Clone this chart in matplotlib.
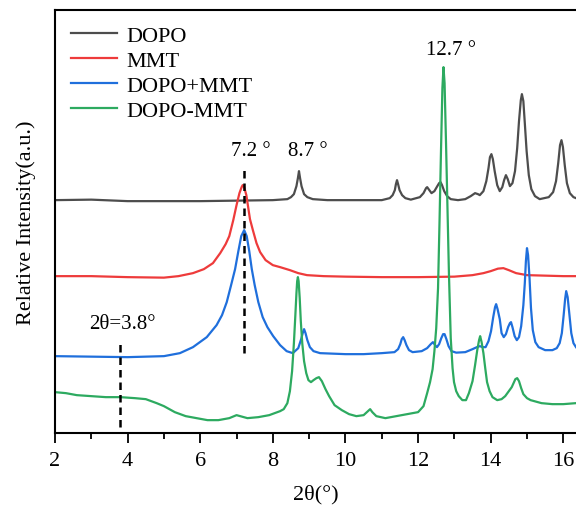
import matplotlib
matplotlib.use("Agg")
import matplotlib.pyplot as plt
from matplotlib.ticker import MultipleLocator

plt.rcParams['font.family'] = ['Liberation Serif', 'DejaVu Serif']

# XRD curves (2theta, stacked intensity in arbitrary units)
dopo_x = [2.0, 3.0, 4.0, 5.0, 6.0, 7.0, 8.0, 8.4, 8.5, 8.58, 8.65, 8.69, 8.72, 8.75, 8.79,
          8.86, 8.95, 9.1, 9.5, 10.0, 10.5, 11.0, 11.22, 11.3, 11.36, 11.39, 11.42, 11.45,
          11.49, 11.56, 11.65, 11.8, 12.05, 12.15, 12.22, 12.25, 12.29, 12.37, 12.45, 12.53,
          12.58, 12.62, 12.66, 12.72, 12.8, 12.9, 13.1, 13.3, 13.45, 13.57, 13.65, 13.7,
          13.8, 13.88, 13.94, 13.98, 14.02, 14.06, 14.11, 14.18, 14.25, 14.32, 14.37, 14.42,
          14.47, 14.53, 14.6, 14.67, 14.73, 14.78, 14.83, 14.86, 14.9, 14.94, 14.99, 15.05,
          15.12, 15.22, 15.35, 15.6, 15.72, 15.8, 15.86, 15.91, 15.95, 15.99, 16.04, 16.1,
          16.18, 16.28, 16.35]
dopo_y = [233, 233.5, 232, 232, 232, 232.5, 233, 234, 236, 239, 247, 255, 262, 255, 247,
          239, 236, 234, 233, 233, 233, 233, 235, 238, 243, 249, 253, 249,
          243, 238, 235, 233.5, 236, 240, 245, 246, 244, 240, 242, 247,
          250, 251, 248, 242, 237, 234, 233, 234, 237, 240, 239, 238,
          242, 252, 265, 276, 279, 274, 262, 248, 242, 246, 253, 258,
          254, 247, 250, 262, 285, 312, 333, 339, 332, 310, 282, 258,
          244, 237, 234, 236, 241, 252, 270, 288, 293, 286, 268, 250,
          240, 236, 235]

mmt_x = [2.0, 3.0, 4.0, 5.0, 5.4, 5.8, 6.1, 6.35, 6.55, 6.7, 6.8, 6.91, 7.0, 7.08, 7.14,
         7.17, 7.21, 7.27, 7.32, 7.37, 7.45, 7.55, 7.65, 7.8, 8.0, 8.2, 8.47, 8.7, 8.94,
         9.4, 10.0, 11.0, 12.0, 13.0, 13.5, 13.8, 14.0, 14.2, 14.35, 14.5, 14.7, 15.0, 15.5,
         16.0, 16.35]
mmt_y = [157, 157, 156, 155.5, 157, 160, 164, 170, 180, 189, 197, 213, 228, 240, 246,
         248, 246, 238, 226, 214, 203, 190, 181, 173, 168, 166, 163, 160, 158,
         157, 156.5, 156, 156, 156.5, 158, 160, 162, 164.5, 165, 163, 160, 158, 157.5,
         157, 157]

mix_x = [2.0, 3.0, 4.0, 5.0, 5.44, 5.8, 6.18, 6.45, 6.6, 6.73, 6.85, 6.96, 7.05, 7.13, 7.21,
         7.28, 7.35, 7.42, 7.5, 7.6, 7.72, 7.85, 8.01, 8.2, 8.38, 8.55, 8.7, 8.78, 8.83,
         8.86, 8.9, 8.95, 9.02, 9.12, 9.3, 10.0, 10.5, 11.0, 11.35, 11.45, 11.51, 11.55,
         11.59, 11.63, 11.68, 11.75, 11.85, 12.1, 12.25, 12.35, 12.41, 12.47, 12.52, 12.58,
         12.64, 12.69, 12.73, 12.78, 12.84, 12.92, 13.05, 13.3, 13.5, 13.62, 13.7, 13.78,
         13.86, 13.94, 14.01, 14.07, 14.12, 14.15, 14.19, 14.25, 14.3, 14.36, 14.42, 14.48,
         14.53, 14.56, 14.6, 14.66, 14.72, 14.78, 14.84, 14.9, 14.94, 14.97, 15.0, 15.03,
         15.07, 15.11, 15.16, 15.23, 15.32, 15.5, 15.7, 15.82, 15.9, 15.96, 16.01, 16.05,
         16.08, 16.12, 16.17, 16.22, 16.28, 16.35]
mix_y = [77, 76.5, 76, 77, 80, 86, 96, 108, 118, 131, 148, 164, 182, 197, 203,
         197, 182, 164, 148, 131, 116, 106, 97, 88, 82, 80, 85, 94, 101,
         104, 100, 93, 86, 82, 80, 79, 79, 80, 81, 84, 89, 94,
         96, 93, 88, 83, 81, 82, 85, 89, 91, 88, 86, 89,
         95, 99, 99, 94, 87, 82, 80.5, 81, 84, 86, 87, 86,
         86, 92, 102, 116, 126, 129, 124, 114, 100, 96, 99, 106,
         110, 111, 106, 97, 93, 96, 107, 128, 150, 172, 185, 178,
         155, 125, 103, 91, 86, 83, 83, 85, 90, 100, 118, 134,
         142, 136, 118, 100, 90, 86]

comp_x = [2.0, 2.3, 2.6, 3.0, 3.4, 3.8, 4.2, 4.5, 4.8, 5.0, 5.3, 5.6, 5.9, 6.2, 6.5, 6.8,
          7.0, 7.1, 7.3, 7.6, 7.9, 8.2, 8.3, 8.4, 8.47, 8.53, 8.58, 8.62, 8.65, 8.67, 8.69,
          8.71, 8.74, 8.77, 8.81, 8.86, 8.92, 8.98, 9.05, 9.12, 9.2, 9.27, 9.35, 9.45, 9.55,
          9.7, 9.9, 10.1, 10.3, 10.5, 10.62, 10.68, 10.74, 10.85, 11.1, 11.4, 11.7, 12.0,
          12.15, 12.25, 12.33, 12.4, 12.45, 12.5, 12.55, 12.59, 12.63, 12.67, 12.7, 12.73,
          12.77, 12.81, 12.85, 12.9, 12.95, 12.99, 13.05, 13.12, 13.22, 13.32, 13.4,
          13.5, 13.57, 13.63, 13.68, 13.71, 13.75, 13.8, 13.85, 13.9, 13.97, 14.05, 14.18,
          14.3, 14.4, 14.5, 14.58, 14.63, 14.68, 14.73, 14.78, 14.84, 14.9, 15.0, 15.1,
          15.4, 15.7, 16.0, 16.35]
comp_y = [41, 40, 38, 37, 36, 36, 35, 34, 30, 27, 21, 17, 15, 13, 13, 15,
          18, 17, 15, 16, 18, 22, 24, 30, 42, 62, 90, 118, 140, 152, 156,
          152, 135, 112, 90, 72, 60, 53, 51, 53, 55, 56, 52, 44, 37,
          28, 23, 19, 17, 18, 22, 24, 21, 17, 15, 17, 19, 21,
          27, 40, 51, 64, 82, 105, 145, 210, 280, 345, 366, 350,
          290, 225, 160, 95, 65, 51, 42, 37, 33, 33, 40,
          52, 68, 83, 93, 97, 91, 80, 65, 51, 42, 36, 33,
          34, 37, 42, 46, 50, 54, 55, 52, 45, 39, 35, 33,
          30, 29, 29, 30]

labels = ['DOPO', 'MMT', 'DOPO+MMT', 'DOPO-MMT']
colors = ['#4d4d4d', '#ee3b3b', '#1f6fdc', '#2daa60']

fig = plt.figure(figsize=(5.76, 5.06), dpi=100)
ax = fig.add_axes([0.0955, 0.142, 0.9045, 0.836])

for xs, ys, lab, c in zip([dopo_x, mmt_x, mix_x, comp_x], [dopo_y, mmt_y, mix_y, comp_y],
                          labels, colors):
    ax.plot(xs, ys, color=c, lw=1.6, label=lab, solid_joinstyle='round')

# reference markers
ax.plot([7.2, 7.2], [80, 267], color='black', ls='--', lw=1.8, dashes=(3, 2))
ax.plot([3.8, 3.8], [6, 89], color='black', ls='--', lw=1.8, dashes=(3, 2))
ax.text(7.4, 273, '7.2 °', fontsize=15, ha='center', va='bottom')
ax.text(8.97, 273, '8.7 °', fontsize=15, ha='center', va='bottom')
ax.text(12.9, 374, '12.7 °', fontsize=15, ha='center', va='bottom')
ax.text(3.85, 100, '2θ=3.8°', fontsize=15, ha='center', va='bottom')

ax.set_xlim(2, 16.35)
ax.set_ylim(0, 423)
ax.xaxis.set_major_locator(MultipleLocator(2))
ax.xaxis.set_minor_locator(MultipleLocator(1))
ax.tick_params(axis='x', which='major', direction='out', length=7, width=1.3, labelsize=16, pad=6)
ax.tick_params(axis='x', which='minor', direction='out', length=4, width=1.3)
ax.set_yticks([])
for s in ['left', 'bottom', 'top']:
    ax.spines[s].set_linewidth(1.5)
ax.spines['right'].set_visible(False)

ax.set_xlabel('2θ(°)', fontsize=16, labelpad=10)
ax.set_ylabel('Relative Intensity(a.u.)', fontsize=16, labelpad=14)

ax.legend(loc='upper left', frameon=False, fontsize=16, handlelength=2.1,
          handletextpad=0.4, labelspacing=0.2, borderaxespad=0.3,
          bbox_to_anchor=(0.0, 1.0))

fig.savefig('out.png', dpi=100)
